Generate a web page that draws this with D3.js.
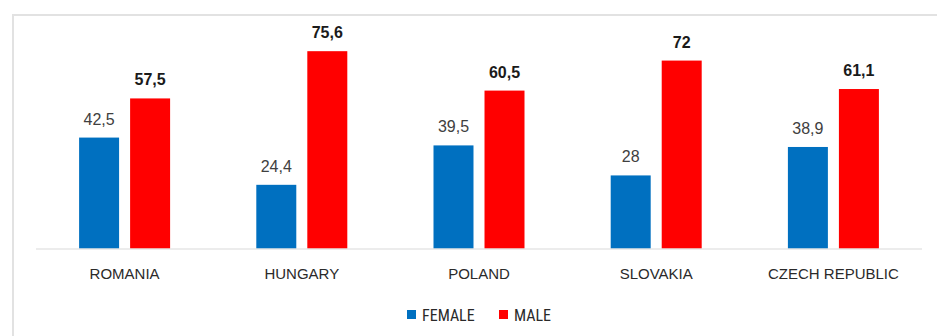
<!DOCTYPE html>
<html>
<head>
<meta charset="utf-8">
<script src="https://cdn.jsdelivr.net/npm/d3@7"></script>
<style>
  html, body { margin: 0; padding: 0; background: #fff; }
  svg { display: block; }
  text { font-family: "Liberation Sans Narrow", "Arial Narrow", "Roboto Condensed", "Liberation Sans", sans-serif; }
</style>
</head>
<body>
<svg id="chart" width="937" height="336"></svg>
<script>
const countries = ["ROMANIA", "HUNGARY", "POLAND", "SLOVAKIA", "CZECH REPUBLIC"];
const female = [42.5, 24.4, 39.5, 28, 38.9];
const male = [57.5, 75.6, 60.5, 72, 61.1];
const seriesNames = ["FEMALE", "MALE"];
const seriesColors = ["#0070C0", "#FF0000"];

const svg = d3.select("#chart");
const W = 937, H = 336;

// outer frame
svg.append("path")
  .attr("d", `M13,${H} L13,15 L${W},15`)
  .attr("fill", "none")
  .attr("stroke", "#e2e2e2")
  .attr("stroke-width", 2);

const plot = { left: 36, right: 922, base: 248.5 };
const yPerUnit = 2.61;

const x0 = d3.scaleBand().domain(countries).range([plot.left, plot.right]).padding(0);
const x1 = d3.scaleBand().domain(seriesNames).range([0, 91]).paddingInner(0.216);
const y = d3.scaleLinear().domain([0, 100]).range([plot.base, plot.base - 100 * yPerUnit]);

const fmt = v => String(v).replace(".", ",");

const rows = countries.map((c, i) => ({ country: c, values: [female[i], male[i]] }));

const groups = svg.append("g").selectAll("g")
  .data(rows).join("g")
  .attr("transform", d => `translate(${x0(d.country) + x0.bandwidth() / 2 - 45.5},0)`);

groups.selectAll("rect")
  .data(d => d.values.map((v, k) => ({ v, k })))
  .join("rect")
  .attr("x", d => x1(seriesNames[d.k]))
  .attr("width", x1.bandwidth())
  .attr("y", d => y(d.v))
  .attr("height", d => plot.base - y(d.v))
  .attr("fill", d => seriesColors[d.k]);

groups.selectAll("text.val")
  .data(d => d.values.map((v, k) => ({ v, k })))
  .join("text")
  .attr("class", "val")
  .attr("x", d => x1(seriesNames[d.k]) + x1.bandwidth() / 2)
  .attr("y", d => y(d.v) - 13)
  .attr("text-anchor", "middle")
  .attr("font-size", 16)
  .style("font-family", "\"Liberation Sans\", Arial, sans-serif")
  .attr("font-weight", d => d.k === 1 ? "bold" : "normal")
  .attr("fill", d => d.k === 1 ? "#1a1a1a" : "#404040")
  .text(d => fmt(d.v));

// baseline
svg.append("line")
  .attr("x1", plot.left).attr("x2", plot.right)
  .attr("y1", plot.base + 0.5).attr("y2", plot.base + 0.5)
  .attr("stroke", "#d9d9d9").attr("stroke-width", 1);

// category axis labels
const xAxis = d3.axisBottom(x0).tickSize(0).tickPadding(20);
const axG = svg.append("g").attr("transform", `translate(0,${plot.base})`).call(xAxis);
axG.select(".domain").remove();
axG.selectAll("text")
  .attr("font-size", 15)
  .attr("fill", "#2a2a2a")
  .style("font-family", "\"Liberation Sans Narrow\", \"Arial Narrow\", \"Liberation Sans\", sans-serif");

// legend
const legend = svg.append("g").attr("transform", "translate(407,321)");
const legendX = [0, 92];
seriesNames.forEach((name, k) => {
  const g = legend.append("g").attr("transform", `translate(${legendX[k]},0)`);
  g.append("rect").attr("x", 0).attr("y", -11).attr("width", 9).attr("height", 9).attr("fill", seriesColors[k]);
  g.append("text").attr("x", 15).attr("y", 0).attr("font-size", 16).attr("fill", "#2a2a2a").text(name);
});
</script>
</body>
</html>
